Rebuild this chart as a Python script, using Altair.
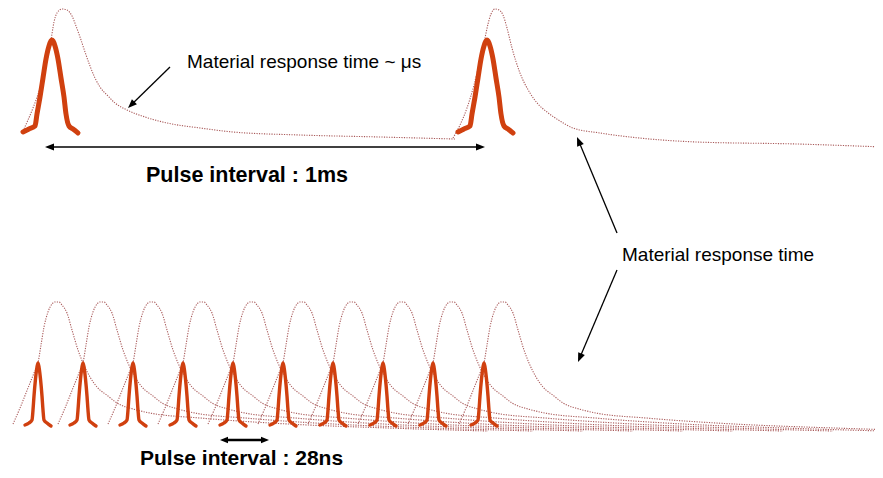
import altair as alt
import pandas as pd
import numpy as np

# ---------------- data (image pixel units) ----------------
# top row: two pulses 1 ms apart
top_pulse_peak_x = [52, 487]
top_pulse_peak_y = [40, 40]
top_pulse_dx = [-29, -23, -17, -15, -12, -9, -6, -3, -1, 0, 1, 3, 6, 9, 12, 14, 17, 21, 26]
top_pulse_dy = [92, 89, 86, 74, 57, 38, 19, 6, 1, 0, 1, 6, 19, 38, 57, 74, 86, 89, 93]

# top row: material response curves (dotted)
resp1_x = [23, 28, 33, 40, 46, 51, 54, 57, 62, 67, 72, 76, 80, 85, 90, 95, 100, 108, 115, 127, 145, 167, 200, 233, 300, 380, 455]
resp1_y = [131, 120, 108, 88, 65, 40, 22, 13, 9, 10, 16, 26, 37, 52, 66, 78, 87, 96, 103, 110, 117, 123, 128, 132, 135, 137, 139]
resp2_x = [453, 460, 467, 474, 480, 485, 488, 491, 495, 499, 503, 507, 512, 520, 530, 538, 547, 560, 573, 600, 630, 697, 797, 883]
resp2_y = [138, 125, 108, 85, 60, 38, 24, 14, 9, 10, 15, 28, 48, 73, 93, 104, 112, 121, 128, 133, 137, 142, 144, 147]

# bottom row: ten pulses 28 ns apart
bottom_pulse_peak_x = [38, 83, 133, 183, 233, 283, 333, 383, 433, 484]
bottom_pulse_peak_y = [363] * 10
bottom_pulse_dx = [-13, -9, -6, -5, -4, -2.5, -1, 0, 1, 2.5, 4, 5, 6, 9, 13]
bottom_pulse_dy = [62, 60, 57, 47, 33, 16, 4, 0, 4, 16, 33, 47, 57, 60, 63]

# bottom row: response curve shape (offset from its pulse, absolute height)
bottom_resp_dx = [-25, -18, -10, -4, 0, 3, 6, 10, 14, 17, 21, 24, 29, 34, 40, 45, 52, 59, 70, 79, 95, 112, 162, 250, 350, 450]
bottom_resp_y = [424, 408, 388, 373, 363, 345, 327, 312, 304, 302, 302, 305, 313, 330, 350, 363, 377, 387, 396, 403, 409, 413, 418, 424, 428, 431]

# arrows
arrow_x1 = [170, 617, 617, 45, 220]
arrow_y1 = [67, 233, 270, 147, 440]
arrow_x2 = [128, 577, 578, 485, 269]
arrow_y2 = [108, 137, 362, 147, 440]
arrow_both = [False, False, False, True, True]
arrow_width = [1.3, 1.3, 1.3, 1.3, 2.6]
arrow_head_len = [9, 9, 9, 9, 8]

# texts
label_text = ["Material response time ~ \u03bcs", "Material response time"]
label_x = [187, 622]
label_y = [68, 261]
bold_text = ["Pulse interval : 1ms", "Pulse interval : 28ns"]
bold_x = [146, 140]
bold_y = [182, 465]
bold_size = [21.5, 21]

PULSE_COLOR = "#D0400F"
RESP_COLOR = "#A04848"

# ---------------- build tables ----------------
rows = []
for i, (px, py) in enumerate(zip(top_pulse_peak_x, top_pulse_peak_y)):
    for k, (dx, dy) in enumerate(zip(top_pulse_dx, top_pulse_dy)):
        rows.append({"x": px + dx, "y": py + dy, "id": f"t{i}", "o": k})
top_pulses = pd.DataFrame(rows)

rows = []
for i, (px, py) in enumerate(zip(bottom_pulse_peak_x, bottom_pulse_peak_y)):
    for k, (dx, dy) in enumerate(zip(bottom_pulse_dx, bottom_pulse_dy)):
        rows.append({"x": px + dx, "y": py + dy, "id": f"b{i}", "o": k})
bottom_pulses = pd.DataFrame(rows)

rows = []
for k, (x, y) in enumerate(zip(resp1_x, resp1_y)):
    rows.append({"x": x, "y": y, "id": "r1", "o": k})
for k, (x, y) in enumerate(zip(resp2_x, resp2_y)):
    rows.append({"x": x, "y": y, "id": "r2", "o": k})
for i, px in enumerate(bottom_pulse_peak_x):
    for k, (dx, y) in enumerate(zip(bottom_resp_dx, bottom_resp_y)):
        rows.append({"x": px + dx, "y": y, "id": f"rb{i}", "o": k})
responses = pd.DataFrame(rows)

line_rows, head_rows = [], []
for x1, y1, x2, y2, both, w, hl in zip(arrow_x1, arrow_y1, arrow_x2, arrow_y2,
                                        arrow_both, arrow_width, arrow_head_len):
    L = np.hypot(x2 - x1, y2 - y1)
    ux, uy = (x2 - x1) / L, (y2 - y1) / L
    sx, sy = x1, y1
    ex, ey = x2 - ux * hl * 0.6, y2 - uy * hl * 0.6
    ang = (np.degrees(np.arctan2(ux, -uy)) + 360) % 360
    head_rows.append({"x": x2, "y": y2, "a": ang, "s": (2 * hl) ** 2})
    if both:
        sx, sy = x1 + ux * hl * 0.6, y1 + uy * hl * 0.6
        ang2 = (ang + 180) % 360
        head_rows.append({"x": x1, "y": y1, "a": ang2, "s": (2 * hl) ** 2})
    line_rows.append({"x": sx, "y": sy, "x2": ex, "y2": ey, "w": w})
arrow_lines = pd.DataFrame(line_rows)
arrow_heads = pd.DataFrame(head_rows)

labels = pd.DataFrame({"t": label_text, "x": label_x, "y": label_y})
blabels = pd.DataFrame({"t": bold_text, "x": bold_x, "y": bold_y, "s": bold_size})

# ---------------- chart ----------------
W, H = 867, 462
xs = alt.Scale(domain=[8, 8 + W], nice=False, zero=False)
ys = alt.Scale(domain=[8, 8 + H], nice=False, zero=False, reverse=True)
X = lambda f="x": alt.X(f"{f}:Q", scale=xs, axis=None)
Y = lambda f="y": alt.Y(f"{f}:Q", scale=ys, axis=None)

resp_layer = alt.Chart(responses).mark_line(
    color=RESP_COLOR, strokeWidth=1.1, strokeDash=[1.2, 1.3], interpolate="monotone", opacity=0.9
).encode(x=X(), y=Y(), detail="id:N", order="o:Q")

top_pulse_layer = alt.Chart(top_pulses).mark_line(
    color=PULSE_COLOR, strokeWidth=5, interpolate="monotone", strokeCap="round", strokeJoin="round"
).encode(x=X(), y=Y(), detail="id:N", order="o:Q")

bottom_pulse_layer = alt.Chart(bottom_pulses).mark_line(
    color=PULSE_COLOR, strokeWidth=3.4, interpolate="monotone", strokeCap="round", strokeJoin="round"
).encode(x=X(), y=Y(), detail="id:N", order="o:Q")

arrow_line_layer = alt.Chart(arrow_lines).mark_rule(color="black").encode(
    x=X(), y=Y(), x2="x2:Q", y2="y2:Q", strokeWidth=alt.StrokeWidth("w:Q", scale=None)
)

arrow_head_layer = alt.Chart(arrow_heads).mark_point(
    shape="M0,0L0.4,1L-0.4,1Z", filled=True, color="black", opacity=1, strokeWidth=0
).encode(x=X(), y=Y(), angle=alt.Angle("a:Q", scale=None), size=alt.Size("s:Q", scale=None))

text_layer = alt.Chart(labels).mark_text(
    align="left", baseline="alphabetic", font="Liberation Sans", fontSize=19, color="black"
).encode(x=X(), y=Y(), text="t:N")

bold_layer = alt.Chart(blabels).mark_text(
    align="left", baseline="alphabetic", font="Liberation Sans", fontWeight="bold", color="black"
).encode(x=X(), y=Y(), text="t:N", size=alt.Size("s:Q", scale=None))

chart = alt.layer(
    resp_layer, top_pulse_layer, bottom_pulse_layer, arrow_line_layer, arrow_head_layer, text_layer, bold_layer
).properties(
    width=W, height=H, padding=0, autosize="none", background="white"
).configure_view(strokeWidth=0)

chart.save("out.html", embed_options={"renderer": "svg", "actions": False})
